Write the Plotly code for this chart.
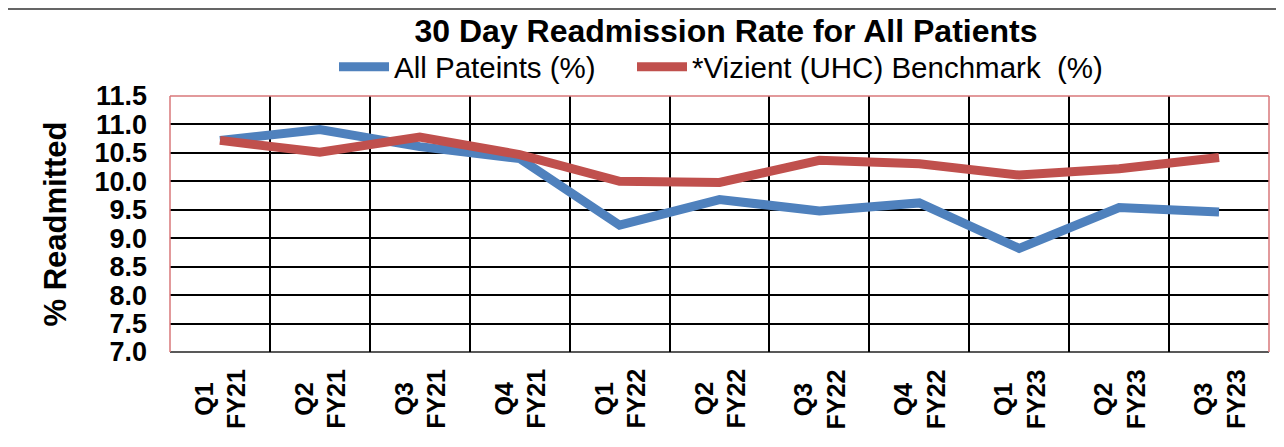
import plotly.graph_objects as go

quarters = ["Q1 FY21", "Q2 FY21", "Q3 FY21", "Q4 FY21",
            "Q1 FY22", "Q2 FY22", "Q3 FY22", "Q4 FY22",
            "Q1 FY23", "Q2 FY23", "Q3 FY23"]
quarter_labels = ["Q1<br>FY21", "Q2<br>FY21", "Q3<br>FY21", "Q4<br>FY21",
                  "Q1<br>FY22", "Q2<br>FY22", "Q3<br>FY22", "Q4<br>FY22",
                  "Q1<br>FY23", "Q2<br>FY23", "Q3<br>FY23"]
all_patients = [10.72, 10.91, 10.61, 10.40, 9.23, 9.68, 9.48, 9.62, 8.82, 9.54, 9.46]
vizient = [10.72, 10.51, 10.78, 10.47, 10.00, 9.98, 10.37, 10.31, 10.11, 10.22, 10.42]
y_ticks = [7.0, 7.5, 8.0, 8.5, 9.0, 9.5, 10.0, 10.5, 11.0, 11.5]

# page has an 8px body margin; work in page pixels and convert
OFF = 8
W, H = 1284 - OFF, 447 - OFF
PL, PR, PT, PB = 170, 1269, 96, 352          # plot area in page pixels
ML, MR, MT, MB = PL - OFF, W - (PR - OFF), PT - OFF, H - (PB - OFF)
PW = W - ML - MR
PH = H - MT - MB

def px(x):  # page x -> paper
    return (x - PL) / PW

def py(y):  # page y -> paper
    return 1 - (y - PT) / PH

def cx(x):  # page x -> container
    return (x - OFF) / W

def cy(y):  # page y -> container
    return 1 - (y - OFF) / H

FONT = "Liberation Sans, Arial, sans-serif"

fig = go.Figure()
fig.add_trace(go.Scatter(x=quarters, y=all_patients, mode="lines",
                         name="All Pateints (%)", legend="legend",
                         line=dict(color="#4F81BD", width=9)))
fig.add_trace(go.Scatter(x=quarters, y=vizient, mode="lines",
                         name="*Vizient (UHC) Benchmark  (%)", legend="legend2",
                         line=dict(color="#C0504D", width=9)))

legend_common = dict(orientation="h", xref="container", yref="container",
                     xanchor="left", yanchor="middle",
                     font=dict(size=29.5, family=FONT), itemwidth=50,
                     bgcolor="rgba(0,0,0,0)")

fig.update_layout(
    width=W, height=H,
    margin=dict(l=ML, r=MR, t=MT, b=MB, autoexpand=False),
    paper_bgcolor="white", plot_bgcolor="white",
    font=dict(family=FONT, color="black"),
    title=dict(text="<b>30 Day Readmission Rate for All Patients</b>",
               xref="container", x=cx(726), xanchor="center",
               yref="container", y=cy(31), yanchor="middle",
               font=dict(size=32, family=FONT)),
    legend=dict(x=cx(334), y=cy(67), **legend_common),
    legend2=dict(x=cx(632), y=cy(67), **legend_common),
    showlegend=True,
)
fig.update_xaxes(type="category", tickson="boundaries", showgrid=True,
                 range=[-0.5, len(quarters) - 0.5],
                 gridcolor="black", gridwidth=1.5, ticks="",
                 showticklabels=False, automargin=False,
                 showline=False, zeroline=False, fixedrange=True)
fig.update_yaxes(range=[7.0, 11.5], tickvals=y_ticks,
                 ticktext=[f"<b>{v:.1f}</b>" for v in y_ticks],
                 showgrid=True, gridcolor="black", gridwidth=1.5,
                 tickfont=dict(size=27, family=FONT), ticks="",
                 ticklabelstandoff=22, automargin=False,
                 title=dict(text="<b>% Readmitted</b>",
                            font=dict(size=31, family=FONT), standoff=18),
                 showline=False, zeroline=False)

# x category labels (two centred lines, rotated)
for q, lab in zip(quarters, quarter_labels):
    fig.add_annotation(x=q, xref="x", y=py(399), yref="paper",
                       text=f"<b>{lab}</b>", textangle=-90, showarrow=False,
                       xanchor="center", yanchor="middle", align="center",
                       font=dict(size=25, family=FONT, color="black"))

# plot area border (red sides/top, dark bottom)
for x0, x1, y0, y1 in [(0, 0, 0, 1), (1, 1, 0, 1), (0, 1, 1, 1)]:
    fig.add_shape(type="line", xref="paper", yref="paper", x0=x0, x1=x1, y0=y0, y1=y1,
                  line=dict(color="#D9777A", width=1.5), layer="above")
fig.add_shape(type="line", xref="paper", yref="paper", x0=0, x1=1, y0=0, y1=0,
              line=dict(color="#222222", width=1.5), layer="below")
# outer chart border
fig.add_shape(type="rect", xref="paper", yref="paper",
              x0=px(7), x1=px(1281), y0=py(460), y1=py(9),
              line=dict(color="#333333", width=1.5), layer="below")

fig.write_html("out.html")
